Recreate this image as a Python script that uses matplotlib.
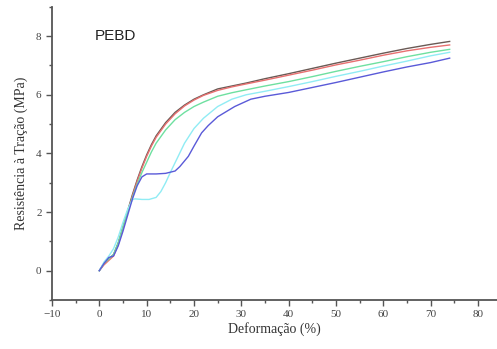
import matplotlib
matplotlib.use("Agg")
import matplotlib.pyplot as plt
from matplotlib.ticker import MultipleLocator

# Deformação (%) and stress (MPa) for five specimens
x_black = [0, 1, 2, 3, 4, 5, 6, 7, 8, 9, 10, 11, 12, 14, 16, 18, 20, 22, 25, 28, 31, 35, 40, 45, 50, 55, 60, 65, 70, 74]
y_black = [0, 0.25, 0.4, 0.55, 0.95, 1.5, 2.05, 2.6, 3.1, 3.55, 3.95, 4.3, 4.6, 5.05, 5.4, 5.65, 5.85, 6.0, 6.2, 6.3, 6.4, 6.55, 6.72, 6.9, 7.08, 7.25, 7.42, 7.58, 7.72, 7.82]

x_red = [0, 1, 2, 3, 4, 5, 6, 7, 8, 9, 10, 11, 12, 14, 16, 18, 20, 22, 25, 28, 31, 35, 40, 45, 50, 55, 60, 65, 70, 74]
y_red = [0, 0.2, 0.35, 0.5, 0.9, 1.45, 2.0, 2.55, 3.05, 3.5, 3.9, 4.25, 4.55, 5.0, 5.35, 5.62, 5.82, 5.98, 6.15, 6.27, 6.37, 6.5, 6.67, 6.84, 7.02, 7.18, 7.35, 7.5, 7.62, 7.7]

x_green = [0, 1, 2, 3, 4, 5, 6, 7, 8, 9, 10, 11, 12, 14, 16, 18, 20, 22, 25, 28, 31, 35, 40, 45, 50, 55, 60, 65, 70, 74]
y_green = [0, 0.25, 0.4, 0.55, 0.95, 1.5, 2.0, 2.5, 2.95, 3.35, 3.7, 4.05, 4.35, 4.8, 5.15, 5.4, 5.6, 5.75, 5.95, 6.07, 6.17, 6.3, 6.45, 6.62, 6.8, 6.97, 7.13, 7.3, 7.45, 7.55]

x_cyan = [0, 1, 2, 3, 4, 5, 6, 7, 7.5, 9, 10.5, 12, 13, 14, 15, 16.5, 18, 20, 22, 25, 28, 31, 35, 40, 45, 50, 55, 60, 65, 70, 74]
y_cyan = [0, 0.3, 0.5, 0.75, 1.15, 1.65, 2.1, 2.42, 2.45, 2.43, 2.43, 2.5, 2.7, 3.0, 3.35, 3.85, 4.35, 4.85, 5.2, 5.6, 5.85, 6.0, 6.12, 6.28, 6.45, 6.63, 6.8, 6.98, 7.15, 7.33, 7.45]

x_blue = [0, 1, 2, 3, 4, 5, 6, 7, 8, 9, 10, 12, 14, 16, 17, 18.8, 20, 21.6, 23, 25, 28.6, 32, 35, 40, 45, 50, 55, 60, 65, 70, 74]
y_blue = [0, 0.25, 0.45, 0.5, 0.85, 1.35, 1.9, 2.45, 2.9, 3.2, 3.3, 3.3, 3.32, 3.4, 3.55, 3.9, 4.25, 4.7, 4.95, 5.25, 5.6, 5.85, 5.95, 6.08, 6.25, 6.42, 6.6, 6.78, 6.95, 7.1, 7.25]

series = [
    (x_black, y_black, "#6a5a55"),
    (x_red, y_red, "#e87070"),
    (x_green, y_green, "#6ee0a0"),
    (x_cyan, y_cyan, "#90ecf4"),
    (x_blue, y_blue, "#5a5ad8"),
]

fig = plt.figure(figsize=(4.97, 3.49), dpi=100)
ax = fig.add_axes([0.1046, 0.1404, 0.8954, 0.84])

for xs, ys, c in series:
    ax.plot(xs, ys, color=c, lw=1.0)

ax.set_xlim(-10, 84)
ax.set_ylim(-1, 9)
ax.xaxis.set_major_locator(MultipleLocator(10))
ax.xaxis.set_minor_locator(MultipleLocator(5))
ax.yaxis.set_major_locator(MultipleLocator(2))
ax.yaxis.set_minor_locator(MultipleLocator(1))

for s in ["top", "right"]:
    ax.spines[s].set_visible(False)
for s in ["left", "bottom"]:
    ax.spines[s].set_color("#555555")
    ax.spines[s].set_linewidth(1.3)

ax.tick_params(which="major", direction="out", length=4, width=1, color="#555555",
               labelsize=8, labelcolor="#444444")
ax.tick_params(which="minor", direction="out", length=2, width=1, color="#555555")
for lab in ax.get_xticklabels() + ax.get_yticklabels():
    lab.set_family("Liberation Serif")

ax.set_xlabel("Deformação (%)", family="Liberation Serif", fontsize=10, color="#333333", labelpad=2)
ax.set_ylabel("Resistência à Tração (MPa)", family="Liberation Serif", fontsize=10, color="#333333", labelpad=6)

ax.text(-1.0, 8.0, "PEBD", family="Liberation Sans", fontsize=11, color="#222222",
        va="center", ha="left")

fig.savefig("out.png", dpi=100)
